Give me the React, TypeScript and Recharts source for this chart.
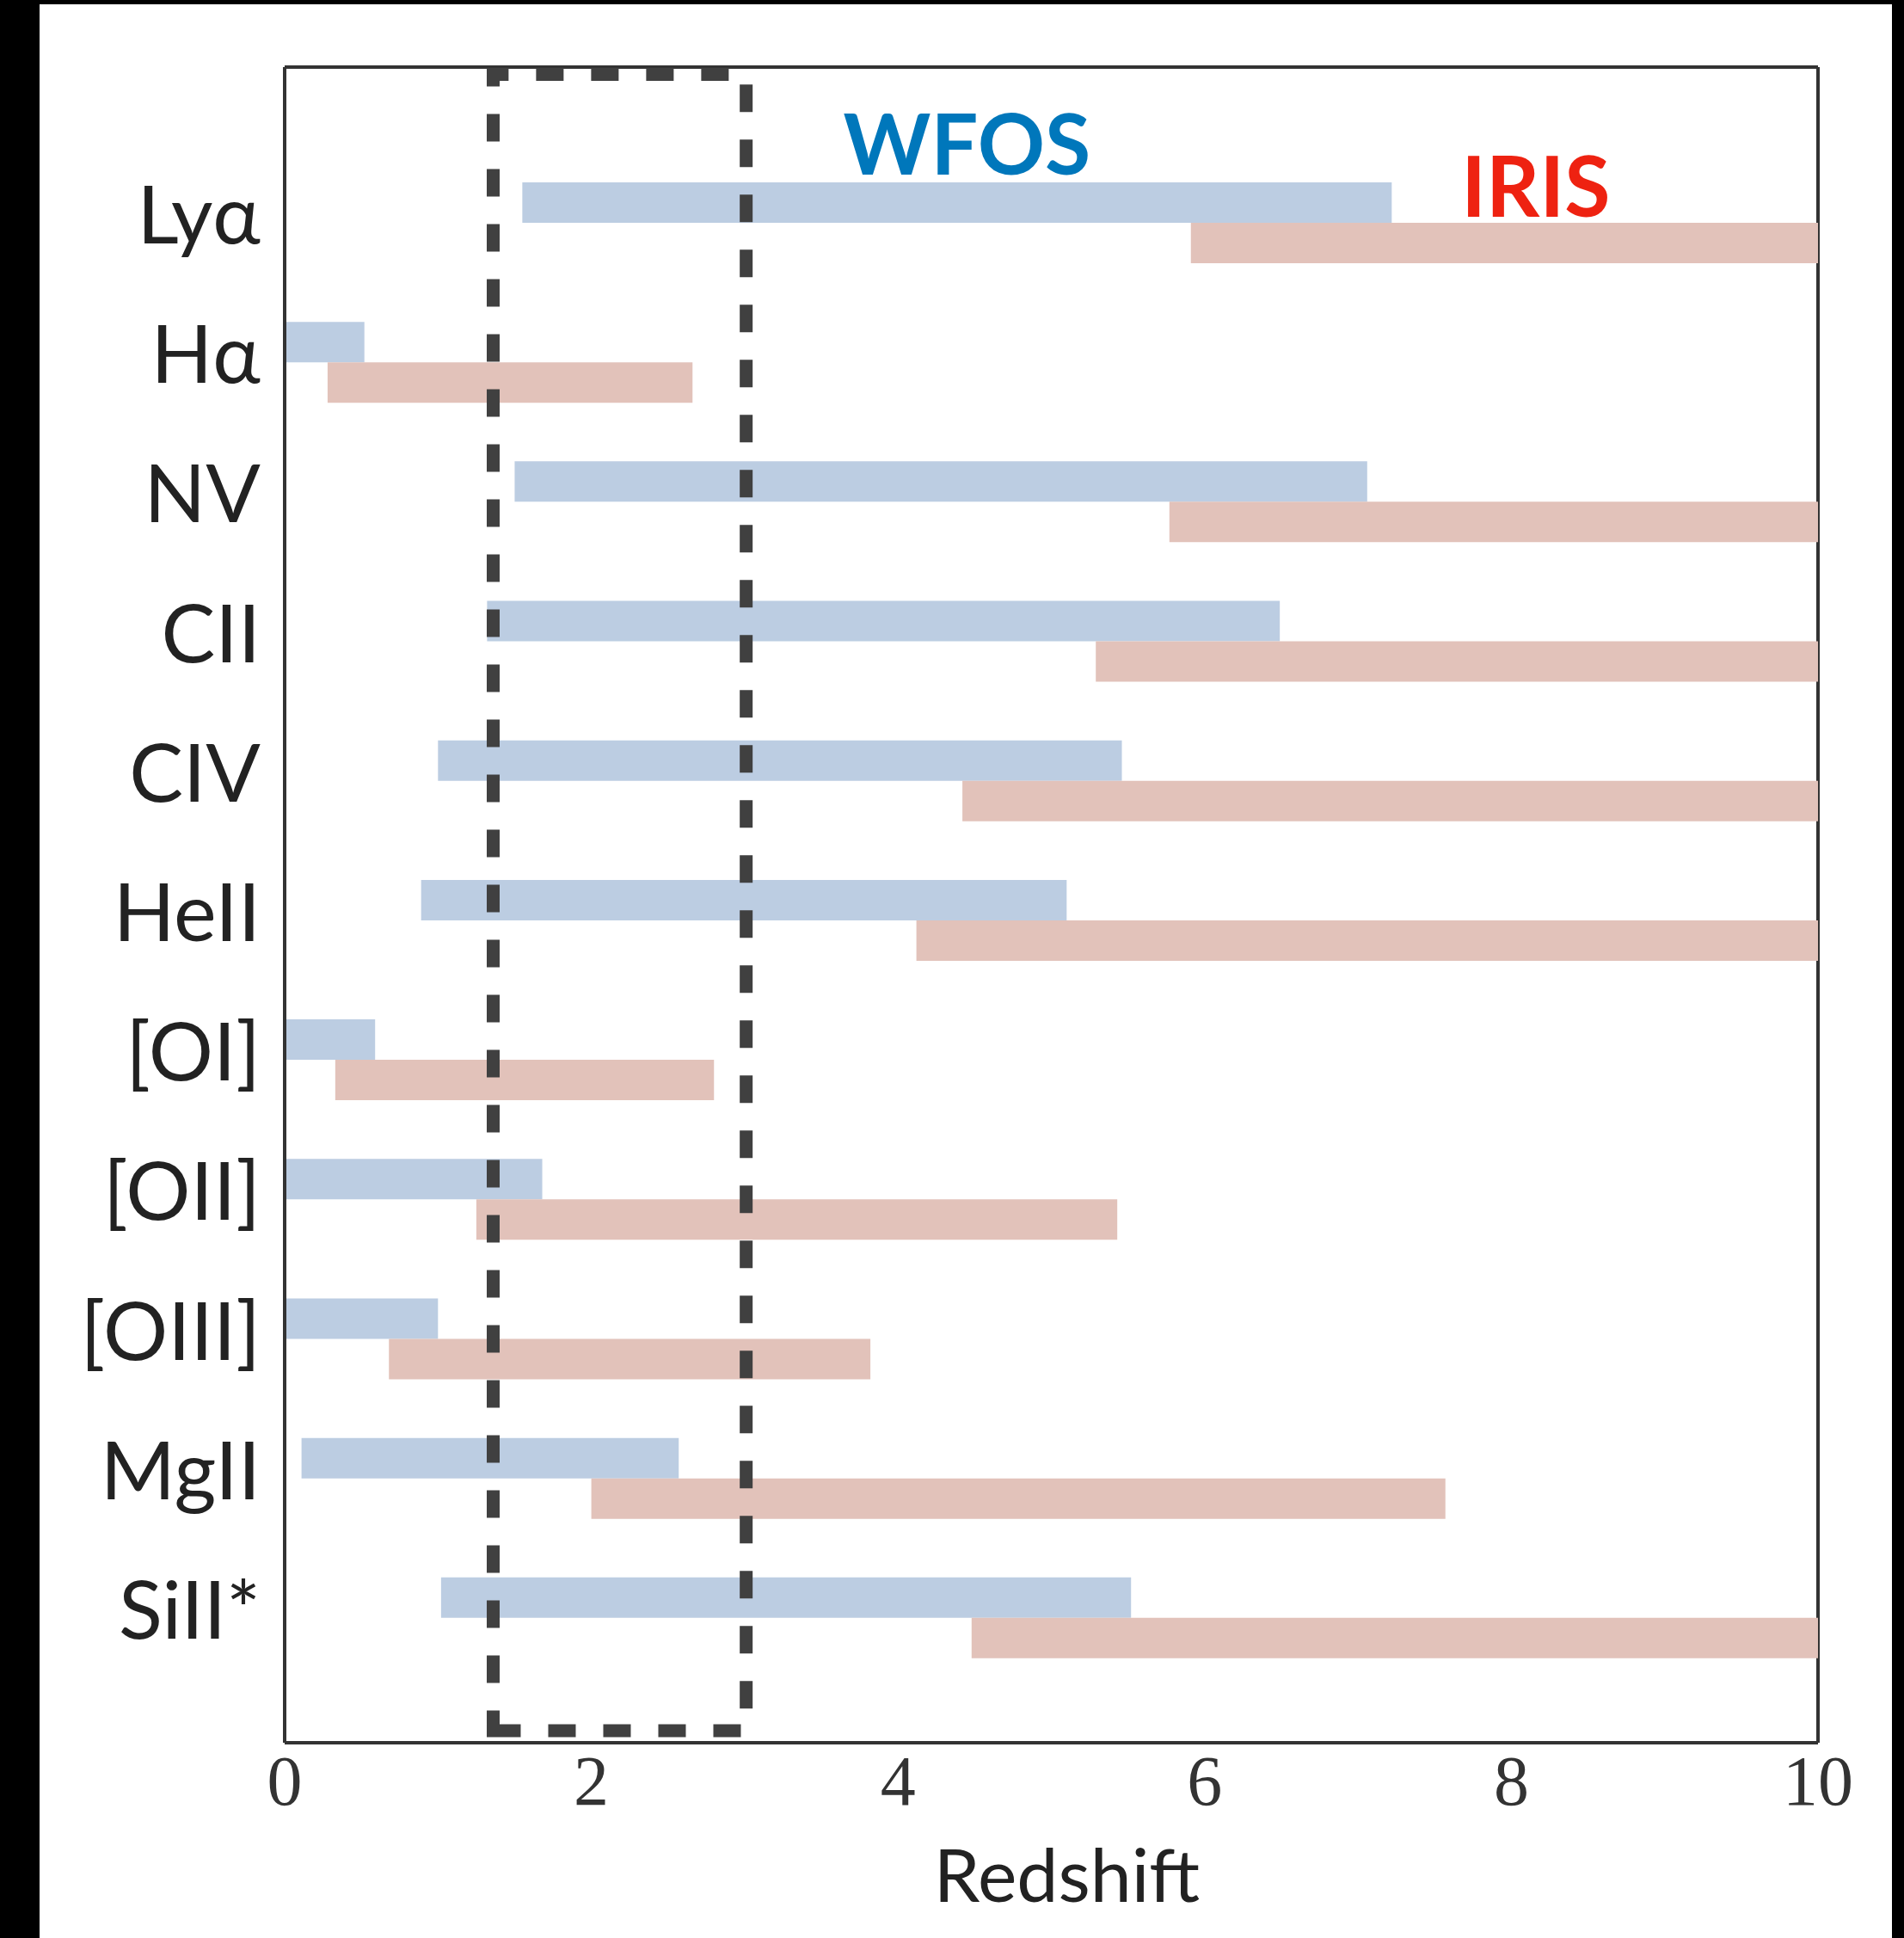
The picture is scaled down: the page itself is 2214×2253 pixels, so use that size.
import { BarChart, Bar, XAxis, YAxis, CartesianGrid, ReferenceArea, ReferenceDot } from 'recharts'

// emission lines, top to bottom
const lines = ['Lyα', 'Hα', 'NV', 'CII', 'CIV', 'HeII', '[OI]', '[OII]', '[OIII]', 'MgII', 'SiII*']

// redshift coverage of each instrument (start, end)
const wfosStart = [1.55, 0, 1.5, 1.32, 1.0, 0.89, 0, 0, 0, 0.11, 1.02]
const wfosEnd = [7.22, 0.52, 7.06, 6.49, 5.46, 5.1, 0.59, 1.68, 1.0, 2.57, 5.52]
const irisStart = [5.91, 0.28, 5.77, 5.29, 4.42, 4.12, 0.33, 1.25, 0.68, 2.0, 4.48]
const irisEnd = [10, 2.66, 10, 10, 10, 10, 2.8, 5.43, 3.82, 7.57, 10]

const xTicks = [0, 2, 4, 6, 8, 10]

// dashed window, redshift range
const boxX = [1.36, 3.01]

const data = lines.map((line, i) => ({
  line,
  wfos: [wfosStart[i], wfosEnd[i]],
  iris: [irisStart[i], irisEnd[i]],
}))

const FRAME = '#333333'
const SANS = 'Lato, "Open Sans", sans-serif'
const PAD_TOP = 100
const PAD_BOTTOM = 64

// eslint-disable-next-line @typescript-eslint/no-explicit-any
const LineTick = ({ x, y, payload }: any) => (
  <text x={x} y={y} dy={24} textAnchor="end" fill="#222222" fontFamily={SANS} fontSize={94}>
    {payload.value}
  </text>
)

// matplotlib draws the rectangle from bottom-left going right;
// the area gets the padded y range, so stretch it back to the frame
// eslint-disable-next-line @typescript-eslint/no-explicit-any
const DashedBox = ({ x, y, width, height }: any) => {
  const top = y - PAD_TOP + 8.5
  const bottom = y + height + PAD_BOTTOM - 14
  return (
    <path
      d={`M${x},${bottom} L${x + width},${bottom} L${x + width},${top} L${x},${top} Z`}
      fill="none"
      stroke="#404040"
      strokeWidth={15}
      strokeDasharray="32 32"
    />
  )
}

// frame = grid lines on the plot edges only
// eslint-disable-next-line @typescript-eslint/no-explicit-any
const frameRows = ({ offset }: any) => (offset ? [offset.top, offset.top + offset.height] : [])
// eslint-disable-next-line @typescript-eslint/no-explicit-any
const frameCols = ({ offset }: any) => (offset ? [offset.left, offset.left + offset.width] : [])

export default function App() {
  return (
    <div style={{ position: 'absolute', left: 0, top: 0, width: 2214, height: 2253, background: '#000' }}>
      <div style={{ position: 'absolute', left: 46, top: 5, width: 2154, height: 2248, background: '#fff' }} />
      <div style={{ position: 'absolute', left: 0, top: 0 }}>
        <BarChart
          width={2214}
          height={2253}
          data={data}
          layout="vertical"
          margin={{ top: 78, right: 100, bottom: 0, left: 0 }}
          barGap={0}
        >
          <CartesianGrid
            stroke={FRAME}
            strokeWidth={4}
            horizontalCoordinatesGenerator={frameRows}
            verticalCoordinatesGenerator={frameCols}
          />
          <XAxis
            type="number"
            domain={[0, 10]}
            ticks={xTicks}
            allowDataOverflow
            height={227}
            tickLine={false}
            tickSize={0}
            tickMargin={14}
            axisLine={{ stroke: FRAME, strokeWidth: 4 }}
            tick={{ fill: '#333333', fontSize: 82, fontFamily: '"Liberation Serif", serif' }}
            label={{
              value: 'Redshift',
              // eslint-disable-next-line @typescript-eslint/no-explicit-any
              content: ({ viewBox }: any) => (
                <text
                  x={viewBox.x + viewBox.width / 2 + 18}
                  y={2211}
                  textAnchor="middle"
                  fill="#222222"
                  fontFamily={SANS}
                  fontSize={86}
                >
                  Redshift
                </text>
              ),
            }}
          />
          <YAxis
            type="category"
            dataKey="line"
            width={331}
            padding={{ top: PAD_TOP, bottom: PAD_BOTTOM }}
            tickLine={false}
            tickSize={0}
            tickMargin={28}
            axisLine={{ stroke: FRAME, strokeWidth: 4 }}
            tick={<LineTick />}
            interval={0}
          />
          <Bar dataKey="wfos" fill="#BCCDE2" barSize={47} isAnimationActive={false} />
          <Bar dataKey="iris" fill="#E2C2BA" barSize={47} isAnimationActive={false} />
          <ReferenceArea x1={boxX[0]} x2={boxX[1]} shape={<DashedBox />} zIndex={1000} />
          <ReferenceDot
            x={4.45}
            y="Lyα"
            r={1}
            fill="none"
            stroke="none"
            label={{ value: 'WFOS', position: 'top', offset: 55, fill: '#0077BB', fontSize: 97, fontWeight: 700, fontFamily: SANS }}
          />
          <ReferenceDot
            x={8.16}
            y="Lyα"
            r={1}
            fill="none"
            stroke="none"
            label={{ value: 'IRIS', position: 'top', offset: 6, fill: '#EE2211', fontSize: 97, fontWeight: 700, fontFamily: SANS }}
          />
        </BarChart>
      </div>
    </div>
  )
}
